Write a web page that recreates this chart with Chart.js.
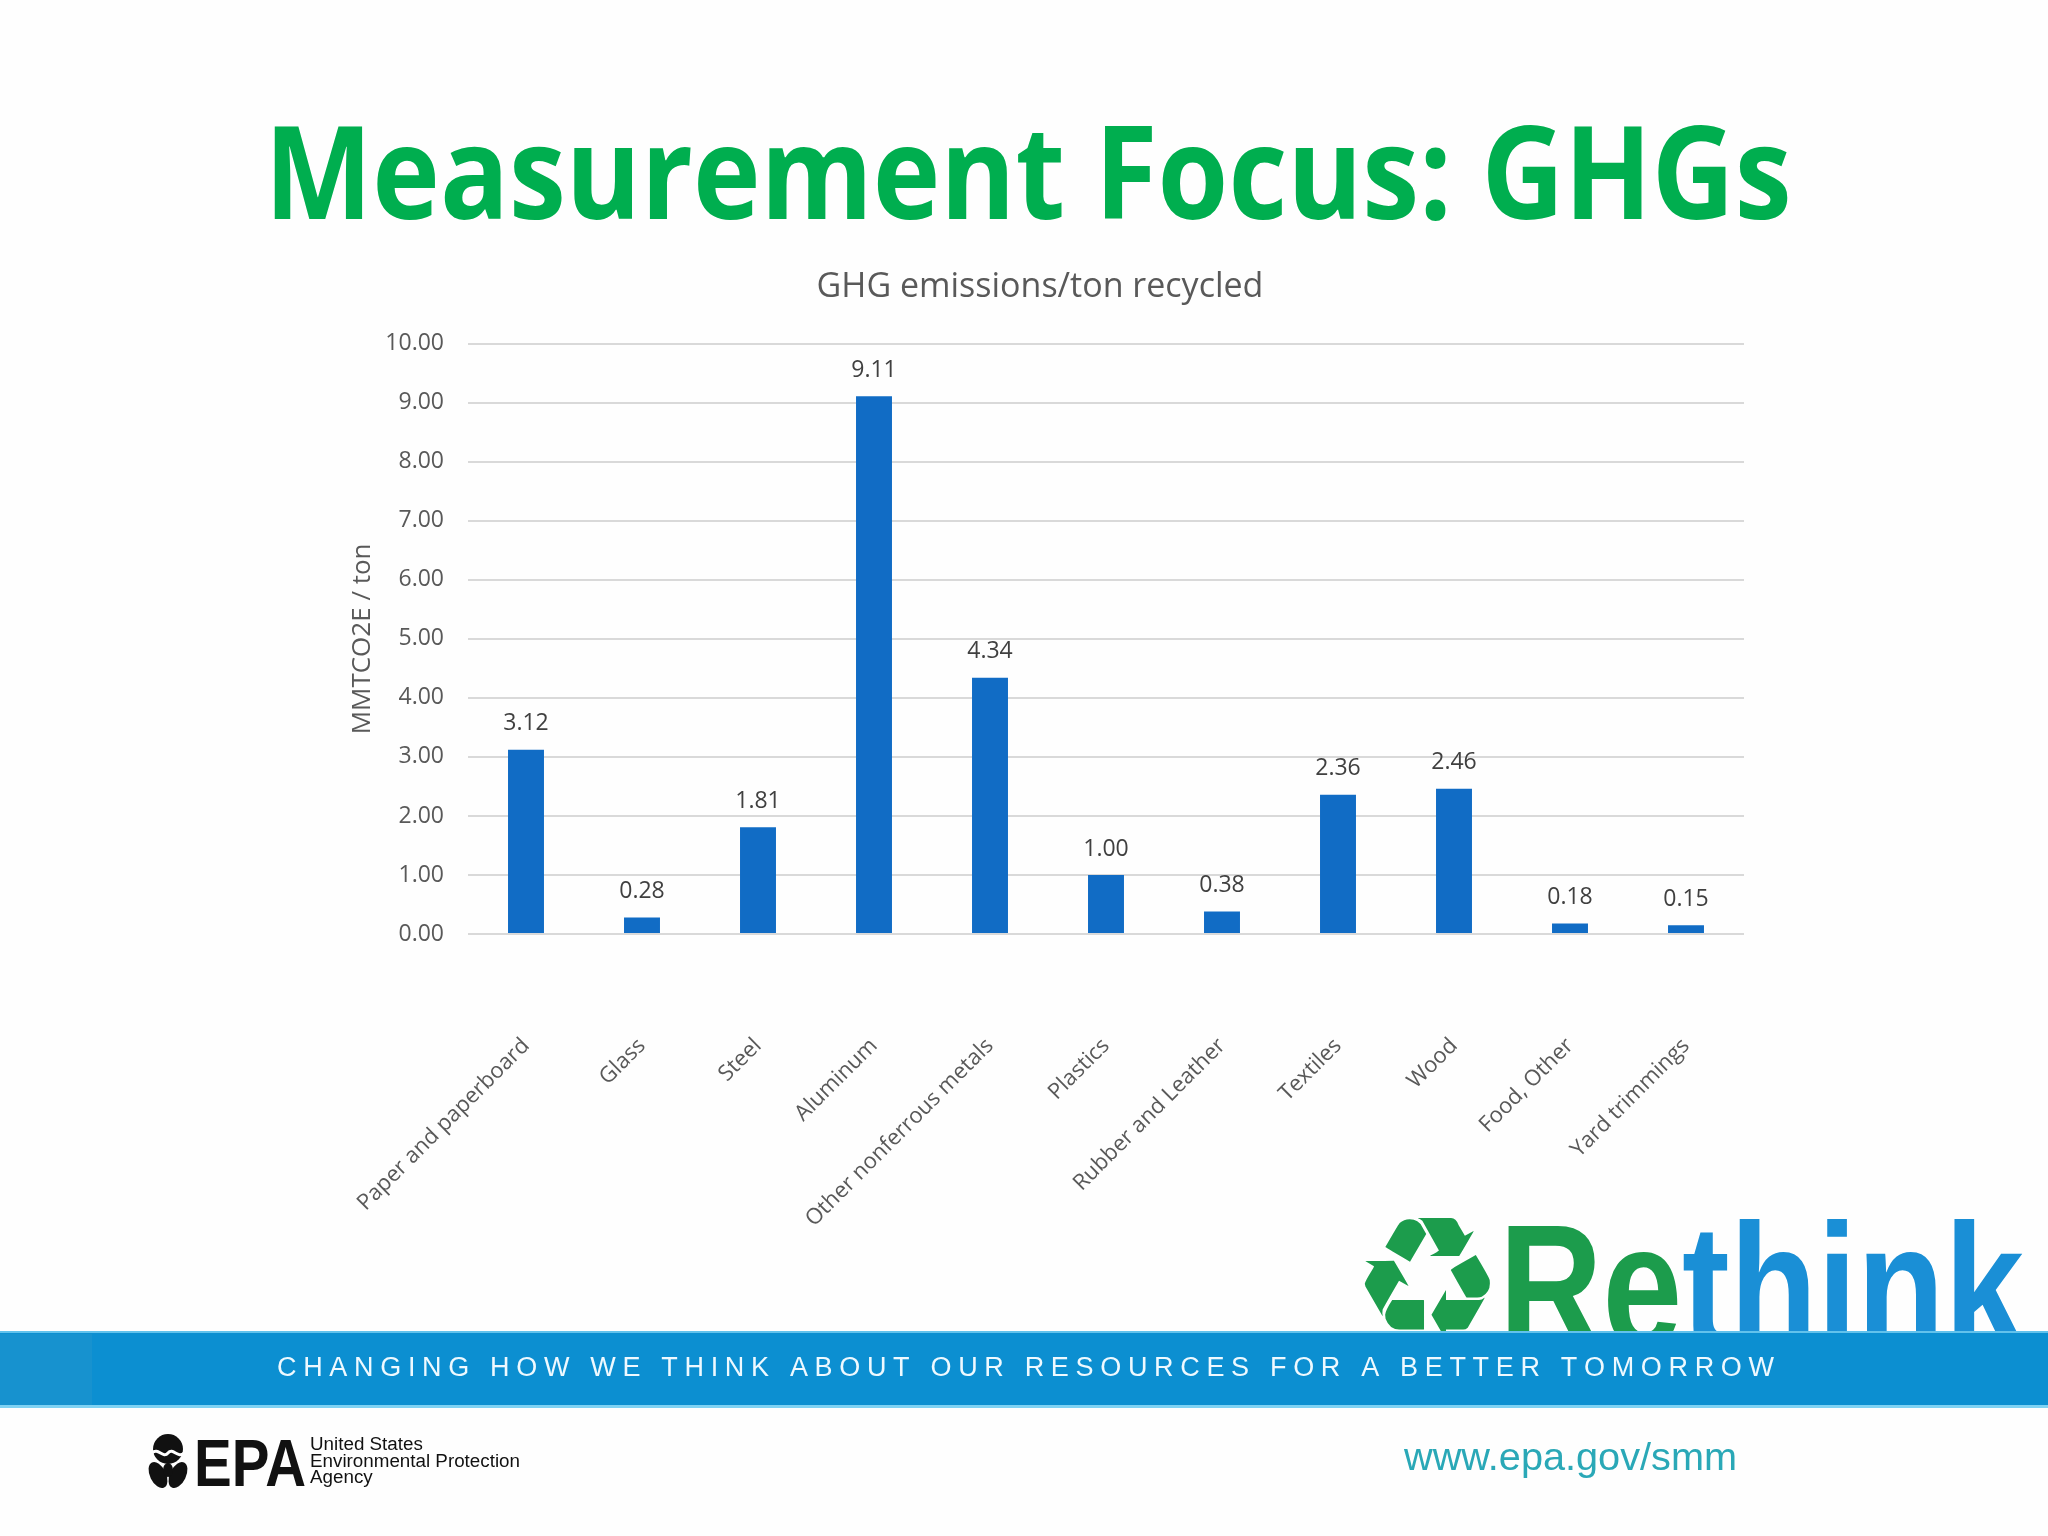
<!DOCTYPE html>
<html><head><meta charset="utf-8">
<script src="https://cdn.jsdelivr.net/npm/chart.js@4.4.1/dist/chart.umd.min.js"></script>
<style>
html,body{margin:0;padding:0;background:#fefefe;}
#wrap{position:relative;width:2048px;height:1536px;overflow:hidden;background:#fefefe;}
#bg{position:absolute;left:0;top:0;}
#chart{position:absolute;left:336px;top:240px;}
</style></head><body>
<div id="wrap">
<canvas id="bg" width="2048" height="1536"></canvas>
<canvas id="chart" width="1444" height="1020"></canvas>
</div>
<script>
// ---- data ----
const slideTitle = "Measurement Focus: GHGs";
const chartTitle = "GHG emissions/ton recycled";
const yAxisTitle = "MMTCO2E / ton";
const categories = ["Paper and paperboard","Glass","Steel","Aluminum","Other nonferrous metals","Plastics","Rubber and Leather","Textiles","Wood","Food, Other","Yard trimmings"];
const values = [3.12,0.28,1.81,9.11,4.34,1.00,0.38,2.36,2.46,0.18,0.15];
const yMin = 0, yMax = 10, yStep = 1;
const bannerText = "CHANGING HOW WE THINK ABOUT OUR RESOURCES FOR A BETTER TOMORROW";
const urlText = "www.epa.gov/smm";
const epaLines = ["United States","Environmental Protection","Agency"];

function drawBackground(){
  const c = document.getElementById('bg');
  const ctx = c.getContext('2d');
  ctx.fillStyle = '#fefefe'; ctx.fillRect(0,0,2048,1536);

  // slide title
  ctx.font = 'bold 130px "Open Sans"';
  ctx.fillStyle = '#00ae4f';
  let w = ctx.measureText(slideTitle).width;
  let sx = 1527 / w;
  ctx.save(); ctx.translate(1028,219); ctx.scale(sx,1);
  ctx.textAlign='center'; ctx.textBaseline='alphabetic';
  ctx.fillText(slideTitle,0,0); ctx.restore();

  // Rethink logo: recycle glyph
  ctx.save();
  ctx.font = '150px "DejaVu Sans"';
  const m = ctx.measureText('\u267B');
  const gw = m.actualBoundingBoxLeft + m.actualBoundingBoxRight;
  const gh = m.actualBoundingBoxAscent + m.actualBoundingBoxDescent;
  const s = Math.min(126/gw, 126/gh);
  ctx.translate(1364, 1218); ctx.scale(s,s);
  ctx.fillStyle = '#1c9c4c';
  ctx.textBaseline='alphabetic';
  ctx.fillText('\u267B', m.actualBoundingBoxLeft, m.actualBoundingBoxAscent);
  ctx.restore();

  // Rethink word
  ctx.save();
  ctx.font = 'bold 176px "Liberation Sans"';
  const wRe = ctx.measureText('Re').width, wTh = ctx.measureText('think').width;
  const s2 = 525/(wRe+wTh);
  ctx.translate(1499,1347); ctx.scale(s2,1);
  ctx.fillStyle='#1c9c4c'; ctx.fillText('Re',0,0);
  ctx.fillStyle='#1a8fd6'; ctx.fillText('think',wRe,0);
  ctx.restore();

  // banner
  ctx.fillStyle = '#0c8fd1'; ctx.fillRect(0,1332,2048,76);
  ctx.fillStyle = '#1792cf'; ctx.fillRect(0,1334,92,72);
  ctx.fillStyle = '#7fd2f3'; ctx.fillRect(0,1405,2048,3);
  ctx.fillStyle = '#62c2ec'; ctx.fillRect(0,1331,2048,2);

  // banner text, letter-spaced
  ctx.font = '27px "Liberation Sans"';
  ctx.fillStyle = '#eef9ff';
  const chars = bannerText.split('');
  let nat = 0; chars.forEach(ch=> nat += ctx.measureText(ch).width);
  const gap = (1497 - nat)/(chars.length-1);
  let x = 277;
  ctx.textAlign='left';
  chars.forEach(ch=>{ ctx.fillText(ch,x,1376); x += ctx.measureText(ch).width + gap; });

  // EPA logo
  ctx.fillStyle = '#111';
  ctx.beginPath(); ctx.arc(168,1449,15,0,Math.PI*2); ctx.fill();
  ctx.strokeStyle = '#fefefe'; ctx.lineWidth = 3;
  ctx.beginPath(); ctx.moveTo(152,1453);
  ctx.bezierCurveTo(158,1447,163,1459,168,1453); ctx.bezierCurveTo(173,1447,178,1459,184,1453); ctx.stroke();
  ctx.fillStyle = '#111';
  ctx.beginPath(); ctx.ellipse(158,1475,8,14,-0.45,0,Math.PI*2); ctx.fill();
  ctx.beginPath(); ctx.ellipse(178,1475,8,14,0.45,0,Math.PI*2); ctx.fill();
  ctx.beginPath(); ctx.ellipse(168,1470,5,7,0,0,Math.PI*2); ctx.fill();

  ctx.save();
  ctx.font = 'bold 67px "Liberation Sans"';
  const we = ctx.measureText('EPA').width;
  ctx.translate(194,1486); ctx.scale(112/we,1);
  ctx.fillText('EPA',0,0); ctx.restore();

  ctx.font = '18px "Liberation Sans"';
  const wl = ctx.measureText(epaLines[1]).width;
  const s3 = 210/wl;
  [1450,1467,1483].forEach((yy,i)=>{
    ctx.save(); ctx.translate(310,yy); ctx.scale(s3,1); ctx.fillText(epaLines[i],0,0); ctx.restore();
  });

  // url
  ctx.font = '39px "Liberation Sans"';
  ctx.fillStyle = '#2aa8b7';
  const wu = ctx.measureText(urlText).width;
  ctx.save(); ctx.translate(1404,1470); ctx.scale(333/wu,1); ctx.fillText(urlText,0,0); ctx.restore();
}

const dataLabels = {
  id:'dataLabels',
  afterDatasetsDraw(chart){
    const ctx = chart.ctx;
    const meta = chart.getDatasetMeta(0);
    ctx.save();
    ctx.font = '23px "Open Sans"';
    ctx.fillStyle = '#404040';
    ctx.textAlign='center'; ctx.textBaseline='middle';
    meta.data.forEach((bar,i)=>{
      ctx.fillText(values[i].toFixed(2), bar.x, bar.y - 26);
    });
    ctx.restore();
  }
};

function drawChart(){
  new Chart(document.getElementById('chart'),{
    type:'bar',
    data:{ labels:categories, datasets:[{ data:values, backgroundColor:'#116cc5', borderWidth:0, barPercentage:0.31, categoryPercentage:1.0 }]},
    options:{
      responsive:false, animation:false, devicePixelRatio:1,
      layout:{ padding:{ left:0, right:36, top:0, bottom:0 } },
      plugins:{
        legend:{display:false}, tooltip:{enabled:false},
        title:{ display:true, text:chartTitle, color:'#595959', font:{family:'Open Sans', size:34, weight:'normal'}, padding:{top:27,bottom:36} }
      },
      scales:{
        x:{
          grid:{display:false, drawTicks:false}, border:{display:false},
          ticks:{ color:'#595959', font:{family:'Open Sans', size:22}, minRotation:45, maxRotation:45, padding:99, autoSkip:false },
          afterFit(scale){ scale.height = 326; scale.paddingLeft = 0; scale.paddingRight = 0; }
        },
        y:{
          min:yMin, max:yMax,
          grid:{ color:'#d9d9d9', lineWidth:2, drawTicks:false }, border:{display:false},
          ticks:{ stepSize:yStep, color:'#595959', font:{family:'Open Sans', size:23}, padding:24, callback:(v)=>Number(v).toFixed(2) },
          title:{ display:true, text:yAxisTitle, color:'#595959', font:{family:'Open Sans', size:26}, padding:{top:11} },
          afterFit(scale){ scale.width = 132; scale.paddingTop = 0; scale.paddingBottom = 0; }
        }
      }
    },
    plugins:[dataLabels]
  });
}

Promise.all([
  document.fonts.load('bold 130px "Open Sans"'),
  document.fonts.load('23px "Open Sans"'),
  document.fonts.load('27px "Liberation Sans"'),
  document.fonts.load('bold 60px "Liberation Sans"'),
  document.fonts.load('60px "DejaVu Sans"')
]).catch(()=>{}).then(()=>{ drawBackground(); drawChart(); });
</script>
</body></html>
